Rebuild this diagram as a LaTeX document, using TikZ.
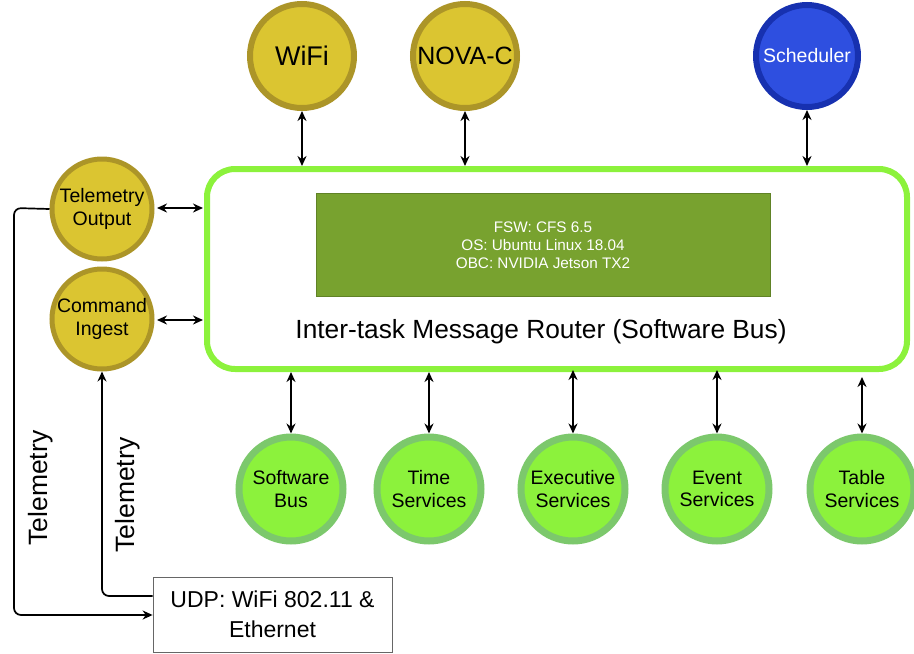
\documentclass[tikz,border=0pt]{standalone}
\usepackage{fontspec}
\setmainfont{Liberation Sans}
\usetikzlibrary{arrows.meta}
\definecolor{ybody}{HTML}{DBC531}
\definecolor{yedge}{HTML}{AC9528}
\definecolor{bbody}{HTML}{2E4FE0}
\definecolor{bedge}{HTML}{1731B0}
\definecolor{gbody}{HTML}{8CF23C}
\definecolor{gedge}{HTML}{7CC86C}
\definecolor{gframe}{HTML}{8CF23C}
\definecolor{gbox}{HTML}{78A22F}
\begin{document}
\begin{tikzpicture}[x=1pt,y=-1pt,
  ycirc/.style={circle,draw=yedge,fill=ybody,line width=6pt,minimum size=104pt,inner sep=0pt,align=center,text=black},
  scirc/.style={circle,draw=yedge,fill=ybody,line width=5pt,minimum size=100pt,inner sep=0pt,align=center,font=\fontsize{19.5}{23}\selectfont},
  gcirc/.style={circle,draw=gedge,fill=gbody,line width=7pt,minimum size=104pt,inner sep=0pt,align=center,font=\fontsize{19.5}{22.5}\selectfont},
  biarrow/.style={{Stealth[length=10pt,width=9pt]}-{Stealth[length=10pt,width=9pt]},line width=1.7pt},
  wire/.style={line width=1.7pt,rounded corners=7pt}]
\useasboundingbox (0,0) rectangle (914,654);
% main frame
\node[draw=gframe,line width=6pt,rounded corners=28pt,minimum width=700pt,minimum height=200pt,fill=white] (router) at (557,269) {};
\node[fill=gbox,draw=gbox!80!black,line width=0.5pt,minimum width=454pt,minimum height=103pt,text=white,align=center,font=\fontsize{15.3}{18}\selectfont] (inner) at (543,245) {FSW: CFS 6.5\\OS: Ubuntu Linux 18.04\\OBC: NVIDIA Jetson TX2};
\node[font=\fontsize{26.3}{30}\selectfont] (lbl) at (541,332) {Inter-task Message Router (Software Bus)};
% top
\node[ycirc,font=\fontsize{27}{30}\selectfont] (wifi) at (302,56) {WiFi};
\node[ycirc,font=\fontsize{25}{28}\selectfont] (nova) at (465,56) {NOVA-C};
\node[circle,draw=bedge,fill=bbody,line width=6pt,minimum size=102pt,inner sep=0pt,text=white,font=\fontsize{19.5}{22}\selectfont] (sched) at (807,56) {Scheduler};
\coordinate (rw) at (302,166);
\coordinate (rn) at (465,166);
\coordinate (rs) at (807,166);
\draw[biarrow] (wifi.south) -- (rw);
\draw[biarrow] (nova.south) -- (rn);
\draw[biarrow] (sched.south) -- (rs);
% left
\node[scirc] (tout) at (102,209) {Telemetry\\Output};
\node[scirc] (cing) at (102,319) {Command\\Ingest};
\coordinate (rt) at (203,208);
\coordinate (rc) at (203,320);
\coordinate (lt) at (157,208);
\coordinate (lc) at (157,320);
\draw[biarrow] (lt) -- (rt);
\draw[biarrow] (lc) -- (rc);
% bottom
\node[gcirc] (sb) at (291,489) {Software\\Bus};
\node[gcirc] (ts) at (429,489) {Time\\Services};
\node[gcirc] (es) at (573,489) {Executive\\Services};
\node[gcirc] (ev) at (717,489) {Event\\Services};
\node[gcirc] (tb) at (862,489) {Table\\Services};
\foreach \n/\x/\t in {sb/291/372,ts/429/372,es/573/370,ev/717/370,tb/862/377}{
  \coordinate (r\n) at (\x,\t);
  \draw[biarrow] (r\n) -- (\n.north);
}
% UDP
\node[draw=black!60,line width=0.8pt,minimum width=239pt,minimum height=75pt,align=center,font=\fontsize{23}{30}\selectfont,inner sep=0pt] (udp) at (272.5,614.5) {UDP: WiFi 802.11 \&\\Ethernet};
\draw[wire,-{Stealth[length=10pt,width=9pt]}] (tout.west) -- (14,208) -- (14,615) -- (udp.west |- 0,615);
\draw[wire,-{Stealth[length=10pt,width=9pt]}] (udp.west |- 0,596) -- (102,596) -- (cing.south);
\node[rotate=90,font=\fontsize{26.5}{30}\selectfont] (t1) at (41,488) {Telemetry};
\node[rotate=90,font=\fontsize{26.5}{30}\selectfont] (t2) at (128,495) {Telemetry};
\end{tikzpicture}
\end{document}
